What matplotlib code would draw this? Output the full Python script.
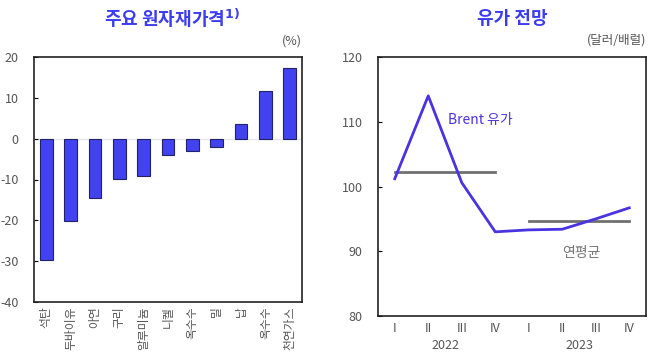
import matplotlib
matplotlib.use("Agg")
import matplotlib.pyplot as plt
import numpy as np

plt.rcParams['font.family'] = ['Noto Sans CJK KR', 'DejaVu Sans']
plt.rcParams['axes.unicode_minus'] = False

# Left panel data
commodities = ['석탄', '두바이유', '아연', '구리', '알루미늄', '니켈', '옥수수', '밀', '납', '옥수수', '천연가스']
changes = [-29.8, -20.1, -14.5, -9.8, -9.2, -3.9, -2.9, -2.0, 3.5, 11.7, 17.3]
left_yticks = [20, 10, 0, -10, -20, -30, -40]

# Right panel data
quarters = ['I', 'II', 'III', 'IV', 'I', 'II', 'III', 'IV']
years = ['2022', '2023']
brent = [101.2, 114.0, 100.6, 93.0, 93.3, 93.4, 95.0, 96.7]
annual_avg = [102.3, 94.6]
right_yticks = [80, 90, 100, 110, 120]

title_color = '#3c3cf2'
bar_color = '#4242f0'
tick_color = '#555555'

fig = plt.figure(figsize=(6.55, 3.59), dpi=100)
fig.patch.set_facecolor('white')

# ---------- Left panel ----------
ax1 = fig.add_axes([34/655, 1-302/359, 268/655, 245/359])
x = np.arange(len(commodities))
ax1.axhline(0, color='#e6e6e6', lw=1.0, zorder=1)
ax1.bar(x, changes, width=0.52, color=bar_color, edgecolor='#22226a', linewidth=0.8, zorder=2)
ax1.set_xlim(-0.5, len(commodities)-0.5)
ax1.set_ylim(-40, 20)
ax1.set_yticks(left_yticks)
ax1.set_xticks(x)
ax1.set_xticklabels(commodities, rotation=90, fontsize=8.5, color=tick_color, va='top')
ax1.tick_params(axis='x', length=0, pad=3)
ax1.tick_params(axis='y', direction='in', length=3, labelsize=9, labelcolor=tick_color, pad=11)
for s in ax1.spines.values():
    s.set_linewidth(1.2)
    s.set_color('#222222')
ax1.text(1.0, 1.04, '(%)', transform=ax1.transAxes, ha='right', va='bottom', fontsize=9, color=tick_color)
fig.text(172/655, 1-18/359, '주요 원자재가격$^{\\mathbf{1)}}$', ha='center', va='center', fontsize=13,
         fontweight='bold', color=title_color)

# ---------- Right panel ----------
ax2 = fig.add_axes([378/655, 1-316/359, 268/655, 259/359])
xq = np.arange(len(quarters))
ax2.plot(xq[:4], [annual_avg[0]]*4, color='#707070', lw=2.0, zorder=2)
ax2.plot(xq[4:], [annual_avg[1]]*4, color='#707070', lw=2.0, zorder=2)
ax2.plot(xq, brent, color='#4a33e0', lw=2.0, zorder=3)
ax2.set_xlim(-0.5, len(quarters)-0.5)
ax2.set_ylim(80, 120)
ax2.set_yticks(right_yticks)
ax2.set_xticks(xq)
ax2.set_xticklabels(quarters, fontsize=9, color=tick_color)
ax2.tick_params(axis='x', length=0, pad=4)
ax2.tick_params(axis='y', direction='in', length=3, labelsize=9, labelcolor=tick_color, pad=11)
for s in ax2.spines.values():
    s.set_linewidth(1.2)
    s.set_color('#222222')
for i, yr in enumerate(years):
    ax2.text(1.5 + 4*i, -0.115, yr, transform=ax2.get_xaxis_transform(), ha='center', va='center',
             fontsize=9, color=tick_color)
ax2.text(1.0, 1.04, '(달러/배럴)', transform=ax2.transAxes, ha='right', va='bottom', fontsize=9, color=tick_color)
ax2.text(1.6, 110.2, 'Brent 유가', ha='left', va='center', fontsize=10, color='#4a33e0')
ax2.text(5.0, 89.7, '연평균', ha='left', va='center', fontsize=10, color='#777777')
fig.text(512/655, 1-18/359, '유가 전망', ha='center', va='center', fontsize=13,
         fontweight='bold', color=title_color)

fig.savefig('out.png', dpi=100)
